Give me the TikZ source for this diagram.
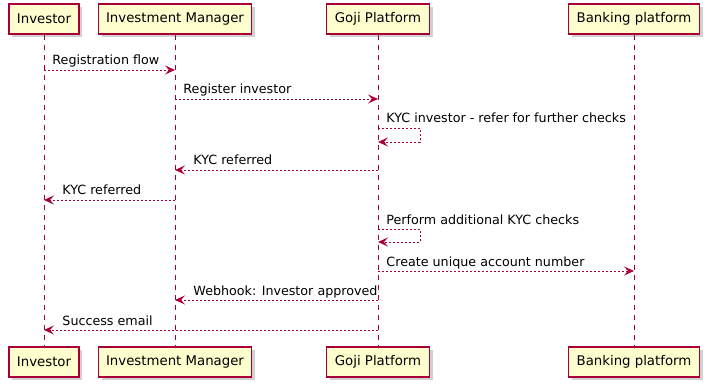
\documentclass[tikz,border=0pt]{standalone}
\usepackage{fontspec}
\setmainfont{DejaVu Sans}
\usetikzlibrary{arrows.meta,positioning,shadows}

\definecolor{umlred}{HTML}{A80036}
\definecolor{umlfill}{HTML}{FEFECE}

\begin{document}
\begin{tikzpicture}[x=1pt,y=-1pt,on grid,>={Stealth[length=10pt,width=9pt,inset=4pt]},
actor/.style={draw=umlred,fill=umlfill,line width=1.2pt,minimum height=30pt,inner sep=0pt,
font=\fontsize{13.3}{15}\selectfont,
drop shadow={shadow xshift=3pt,shadow yshift=-3pt,opacity=0.3,fill=black!60}},
lifeline/.style={draw=umlred,line width=0.9pt,dash pattern=on 5pt off 5pt},
msg/.style={->,draw=umlred,line width=0.9pt,dash pattern=on 2pt off 2pt},
lbl/.style={font=\fontsize{12.7}{15}\selectfont,inner sep=0pt,anchor=base west}]
\useasboundingbox (0,0) rectangle (708,387);

% participants, top row
\node[actor,minimum width=70pt] (inv) at (44,19) {Investor};
\node[actor,minimum width=153pt] (mgr) at (175,19) {Investment Manager};
\node[actor,minimum width=103pt] (goji) at (378,19) {Goji Platform};
\node[actor,minimum width=131pt] (bank) at (634,19) {Banking platform};

% participants, bottom row
\node[actor,minimum width=70pt] (inv2) [below=343pt of inv] {Investor};
\node[actor,minimum width=153pt] (mgr2) [below=343pt of mgr] {Investment Manager};
\node[actor,minimum width=103pt] (goji2) [below=343pt of goji] {Goji Platform};
\node[actor,minimum width=131pt] (bank2) [below=343pt of bank] {Banking platform};

% lifelines
\draw[lifeline] (inv) -- (inv2);
\draw[lifeline] (mgr) -- (mgr2);
\draw[lifeline] (goji) -- (goji2);
\draw[lifeline] (bank) -- (bank2);

% messages
\draw[msg] (inv |- 0,70) node[lbl,xshift=8pt,yshift=5pt] {Registration flow} -- (mgr |- 0,70);
\draw[msg] (mgr |- 0,99) node[lbl,xshift=8pt,yshift=5pt] {Register investor} -- (goji |- 0,99);
\draw[msg] (goji |- 0,128) node[lbl,xshift=8pt,yshift=5pt] {KYC investor - refer for further checks}
  -- ++(42,0) -- ++(0,14) -- (goji |- 0,142);
\draw[msg] (goji |- 0,170) -- (mgr |- 0,170) node[lbl,xshift=18pt,yshift=5pt] {KYC referred};
\draw[msg] (mgr |- 0,200) -- (inv |- 0,200) node[lbl,xshift=18pt,yshift=5pt] {KYC referred};
\draw[msg] (goji |- 0,229) node[lbl,xshift=8pt,yshift=5pt] {Perform additional KYC checks}
  -- ++(42,0) -- ++(0,13) -- (goji |- 0,242);
\draw[msg] (goji |- 0,271) node[lbl,xshift=8pt,yshift=5pt] {Create unique account number} -- (bank |- 0,271);
\draw[msg] (goji |- 0,300) -- (mgr |- 0,300) node[lbl,xshift=18pt,yshift=5pt] {Webhook: Investor approved};
\draw[msg] (goji |- 0,330) -- (inv |- 0,330) node[lbl,xshift=18pt,yshift=5pt] {Success email};
\end{tikzpicture}
\end{document}
